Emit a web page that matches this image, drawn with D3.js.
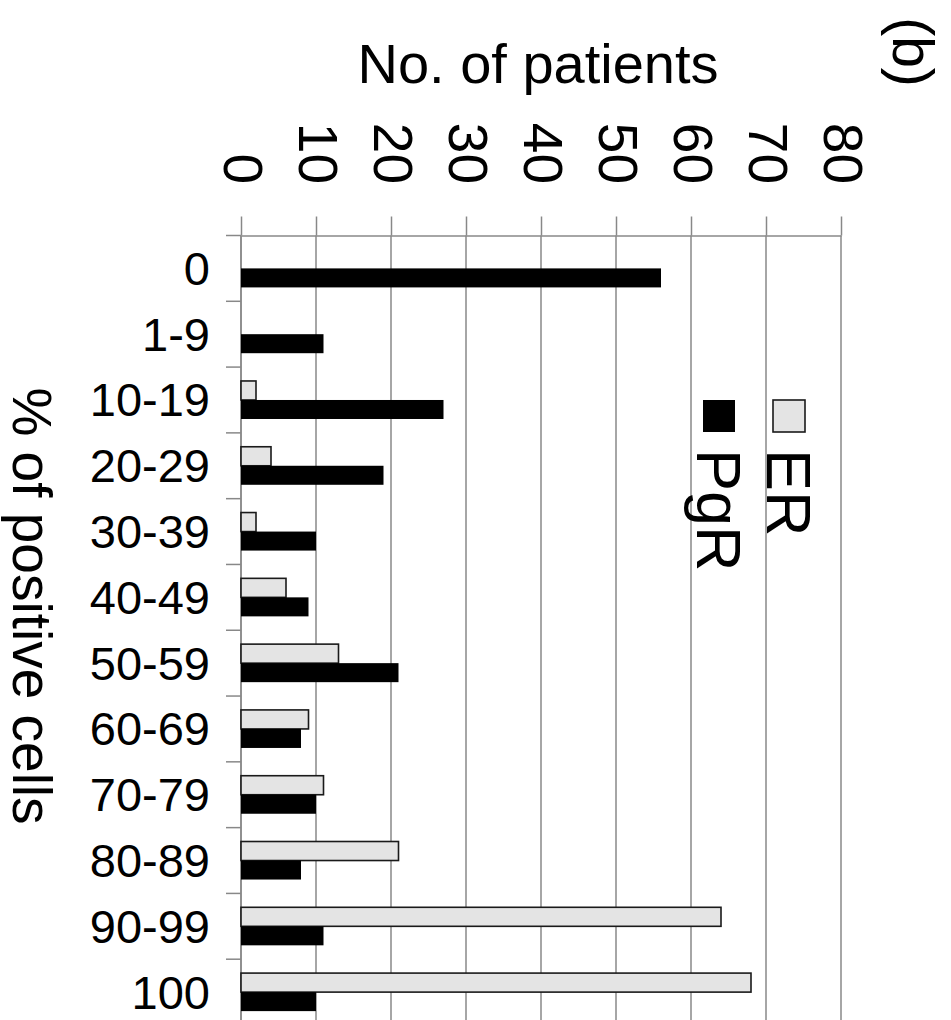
<!DOCTYPE html>
<html>
<head>
<meta charset="utf-8">
<script src="https://cdn.jsdelivr.net/npm/d3@7"></script>
<style>
  html, body { margin: 0; padding: 0; background: #fff; }
  svg { display: block; }
  text { font-family: "Liberation Sans", Arial, sans-serif; fill: #000; }
</style>
</head>
<body>
<div id="chart"></div>
<script>
// Receptor-positive cell categories and patient counts per category
const categories = ["0", "1-9", "10-19", "20-29", "30-39", "40-49", "50-59", "60-69", "70-79", "80-89", "90-99", "100"];
const erValues  = [0, 0, 2, 4, 2, 6, 13, 9, 11, 21, 64, 68];
const pgrValues = [56, 11, 27, 19, 10, 9, 21, 8, 10, 8, 11, 10];
const seriesNames = ["ER", "PgR"];
const xTicks = [0, 10, 20, 30, 40, 50, 60, 70, 80];

const W = 951, H = 1020;
const gridColor = "#888888";
const fills = { ER: "#e4e4e4", PgR: "#000000" };

const svg = d3.select("#chart").append("svg")
  .attr("width", W).attr("height", H);

const x = d3.scaleLinear().domain([0, 80]).range([241, 841]);
const y = d3.scaleBand().domain(categories).range([235.5, 1025]).padding(0);
const ySub = d3.scaleBand().domain(seriesNames).range([0, y.bandwidth()])
  .paddingInner(0).paddingOuter(0.73);

const yTop = y.range()[0], yBottom = y.range()[1];

// vertical gridlines
svg.append("g").selectAll("line").data(xTicks).join("line")
  .attr("x1", d => x(d)).attr("x2", d => x(d))
  .attr("y1", yTop).attr("y2", yBottom)
  .attr("stroke", gridColor).attr("stroke-width", 1.5);

// top value axis (ticks above the frame line)
const xAxis = svg.append("g").attr("transform", `translate(0,${yTop})`)
  .call(d3.axisTop(x).tickValues(xTicks).tickSize(19).tickSizeOuter(0).tickFormat(""));
xAxis.selectAll("path, line").attr("stroke", gridColor).attr("stroke-width", 1.5);

// category axis line and boundary ticks
const boundaries = d3.range(categories.length + 1).map(i => yTop + i * y.step());
svg.append("line")
  .attr("x1", x(0)).attr("x2", x(0)).attr("y1", yTop).attr("y2", yBottom)
  .attr("stroke", gridColor).attr("stroke-width", 1.5);
svg.append("g").selectAll("line").data(boundaries).join("line")
  .attr("x1", x(0) - 15).attr("x2", x(0))
  .attr("y1", d => d).attr("y2", d => d)
  .attr("stroke", gridColor).attr("stroke-width", 1.5);

// bars
const rows = categories.map((c, i) => ({ cat: c, ER: erValues[i], PgR: pgrValues[i] }));
const groups = svg.append("g").selectAll("g").data(rows).join("g")
  .attr("transform", d => `translate(0,${y(d.cat)})`);
groups.selectAll("rect")
  .data(d => seriesNames.map(s => ({ s, v: d[s] })).filter(e => e.v > 0))
  .join("rect")
  .attr("x", x(0))
  .attr("y", e => ySub(e.s))
  .attr("width", e => x(e.v) - x(0))
  .attr("height", ySub.bandwidth())
  .attr("fill", e => fills[e.s])
  .attr("stroke", e => e.s === "ER" ? "#1a1a1a" : "none")
  .attr("stroke-width", 1.6);

// rotated tick labels
svg.append("g").selectAll("text").data(xTicks).join("text")
  .attr("transform", d => `translate(${x(d) + 2},184) rotate(90)`)
  .attr("text-anchor", "end").attr("dy", "0.35em")
  .style("font-size", "55px")
  .text(d => d);

// category labels
svg.append("g").selectAll("text").data(categories).join("text")
  .attr("x", 210).attr("y", d => y(d) + y.bandwidth() / 2)
  .attr("text-anchor", "end").attr("dy", "0.35em")
  .style("font-size", "47px")
  .text(d => d);

// axis titles
svg.append("text")
  .attr("x", 538).attr("y", 83)
  .attr("text-anchor", "middle")
  .style("font-size", "56px")
  .text("No. of patients");

svg.append("text")
  .attr("transform", "translate(32,606) rotate(90)")
  .attr("text-anchor", "middle").attr("dy", "0.35em")
  .style("font-size", "55px")
  .text("% of positive cells");

svg.append("text")
  .attr("transform", "translate(913,52) rotate(90)")
  .attr("text-anchor", "middle").attr("dy", "0.35em")
  .style("font-size", "57px")
  .text("(b)");

// legend
const legendX = { ER: 789, PgR: 719 };
const legend = svg.append("g").selectAll("g").data(seriesNames).join("g");
legend.append("rect")
  .attr("x", d => legendX[d] - 16).attr("y", 400)
  .attr("width", 32).attr("height", 32)
  .attr("fill", d => fills[d])
  .attr("stroke", d => d === "ER" ? "#1a1a1a" : "none")
  .attr("stroke-width", 1.6);
legend.append("text")
  .attr("transform", d => `translate(${legendX[d]},449) rotate(90)`)
  .attr("text-anchor", "start").attr("dy", "0.35em")
  .style("font-size", "63px")
  .text(d => d);
</script>
</body>
</html>
